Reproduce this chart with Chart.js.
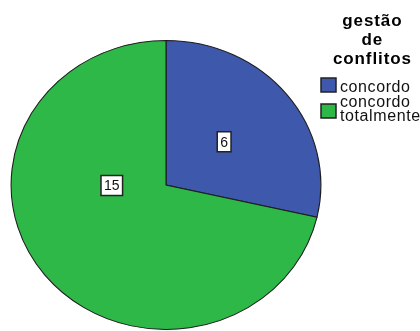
<!DOCTYPE html>
<html>
<head>
<meta charset="utf-8"/>
<title>gestão de conflitos</title>
<script src="https://cdn.jsdelivr.net/npm/chart.js@4"></script>
<style>
  html, body { margin: 0; padding: 0; background: #fff; }
</style>
</head>
<body>
<canvas id="pie" width="420" height="331"></canvas>
<script>
// data
const categories = ['concordo', 'concordo totalmente'];
const legendLines = [['concordo'], ['concordo', 'totalmente']];
const counts = [6, 15];
const legendTitle = ['gestão', 'de', 'conflitos'];
const colors = ['#3e58ac', '#2eb848'];

// SPSS style: pie a bit wider than tall
const stretchX = 1.072;
// where the count boxes sit (angle offset from slice middle in deg, fraction of radius)
const labelSpots = [{ ang: 0, r: 0.48 }, { ang: 38, r: 0.35 }];

const ellipsePlugin = {
  id: 'ellipse',
  beforeDatasetsDraw(chart) {
    const arc = chart.getDatasetMeta(0).data[0];
    const ctx = chart.ctx;
    ctx.save();
    ctx.translate(arc.x, 0);
    ctx.scale(stretchX, 1);
    ctx.translate(-arc.x, 0);
  },
  afterDatasetsDraw(chart) {
    chart.ctx.restore();
  }
};

const boxLabels = {
  id: 'boxLabels',
  afterDraw(chart) {
    const ctx = chart.ctx;
    const meta = chart.getDatasetMeta(0);
    ctx.save();
    ctx.font = '14px "Liberation Sans", Arial, sans-serif';
    ctx.textAlign = 'center';
    ctx.textBaseline = 'middle';
    meta.data.forEach((arc, i) => {
      const p = labelSpots[i];
      const mid = (arc.startAngle + arc.endAngle) / 2 + p.ang * Math.PI / 180;
      const r = arc.outerRadius * p.r;
      const x = arc.x + Math.cos(mid) * r * stretchX;
      const y = arc.y + Math.sin(mid) * r;
      const txt = String(chart.data.datasets[0].data[i]);
      const w = ctx.measureText(txt).width + 6;
      const h = 20;
      ctx.fillStyle = '#fff';
      ctx.fillRect(x - w / 2, y - h / 2, w, h);
      ctx.strokeStyle = '#222';
      ctx.lineWidth = 1.5;
      ctx.strokeRect(x - w / 2, y - h / 2, w, h);
      ctx.fillStyle = '#111';
      ctx.fillText(txt, x, y + 1);
    });
    ctx.restore();
  }
};

const sideLegend = {
  id: 'sideLegend',
  afterDraw(chart) {
    const ctx = chart.ctx;
    ctx.save();
    ctx.fillStyle = '#000';
    ctx.textAlign = 'center';
    ctx.textBaseline = 'alphabetic';
    ctx.font = 'bold 17px "Liberation Sans", Arial, sans-serif';
    ctx.letterSpacing = '0.9px';
    legendTitle.forEach((t, i) => ctx.fillText(t, 372.4, 26 + i * 19));

    ctx.textAlign = 'left';
    ctx.font = '16px "Liberation Sans", Arial, sans-serif';
    ctx.letterSpacing = '0.6px';
    const boxTops = [78, 104];
    const baselines = [[92], [107, 121]];
    legendLines.forEach((lines, i) => {
      ctx.fillStyle = colors[i];
      ctx.fillRect(321, boxTops[i], 15, 14);
      ctx.strokeStyle = '#222';
      ctx.lineWidth = 1.5;
      ctx.strokeRect(321, boxTops[i], 15, 14);
      ctx.fillStyle = '#111';
      lines.forEach((l, j) => ctx.fillText(l, 340, baselines[i][j]));
    });
    ctx.restore();
  }
};

new Chart(document.getElementById('pie'), {
  type: 'pie',
  data: {
    labels: categories,
    datasets: [{
      data: counts,
      backgroundColor: colors,
      borderColor: '#1e1e1e',
      borderWidth: 1,
      borderJoinStyle: 'miter'
    }]
  },
  options: {
    responsive: false,
    animation: false,
    devicePixelRatio: 1,
    layout: { padding: { top: 40, bottom: 1, left: 21, right: 109 } },
    plugins: {
      legend: { display: false },
      tooltip: { enabled: false }
    }
  },
  plugins: [ellipsePlugin, boxLabels, sideLegend]
});
</script>
</body>
</html>
